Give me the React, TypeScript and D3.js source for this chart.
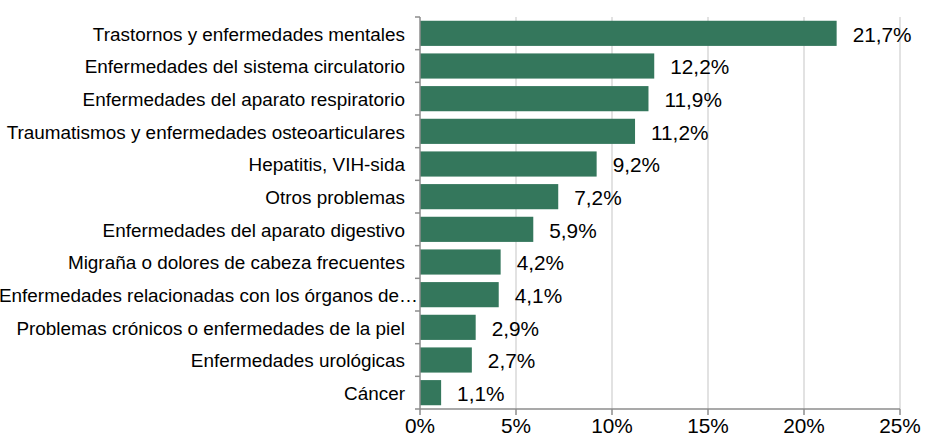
import React from "react";
import * as d3 from "d3";

const categories = [
  "Trastornos y enfermedades mentales",
  "Enfermedades del sistema circulatorio",
  "Enfermedades del aparato respiratorio",
  "Traumatismos y enfermedades osteoarticulares",
  "Hepatitis, VIH-sida",
  "Otros problemas",
  "Enfermedades del aparato digestivo",
  "Migraña o dolores de cabeza frecuentes",
  "Enfermedades relacionadas con los órganos de…",
  "Problemas crónicos o enfermedades de la piel",
  "Enfermedades urológicas",
  "Cáncer",
];
const values = [21.7, 12.2, 11.9, 11.2, 9.2, 7.2, 5.9, 4.2, 4.1, 2.9, 2.7, 1.1];
const valueLabels = ["21,7%", "12,2%", "11,9%", "11,2%", "9,2%", "7,2%", "5,9%", "4,2%", "4,1%", "2,9%", "2,7%", "1,1%"];
const xTicks = [0, 5, 10, 15, 20, 25];
const xTickLabels = ["0%", "5%", "10%", "15%", "20%", "25%"];

const W = 925;
const H = 443;
const left = 420;
const right = 900;
const top = 17;
const bottom = 409;

export default function App() {
  const x = d3.scaleLinear().domain([0, 25]).range([left, right]);
  const y = d3.scaleBand<string>().domain(categories).range([top, bottom]).paddingInner(0.23).paddingOuter(0.115);
  const step = (bottom - top) / categories.length;
  const font = "Arial, 'Liberation Sans', sans-serif";
  const axisColor = "#8c8c8c";
  return (
    <svg width={W} height={H} style={{ position: "absolute", left: 0, top: 0, background: "#fff" }}>
      {xTicks.slice(1).map((t) => (
        <line key={"g" + t} x1={x(t)} x2={x(t)} y1={top} y2={bottom} stroke="#d9d9d9" strokeWidth={1.5} />
      ))}
      {categories.map((c, i) => (
        <rect key={c} x={x(0)} y={y(c)} width={x(values[i]) - x(0)} height={y.bandwidth()} fill="#34775c" />
      ))}
      <line x1={left} x2={left} y1={top} y2={bottom} stroke={axisColor} strokeWidth={1.5} />
      {d3.range(categories.length + 1).map((i) => (
        <line key={"yt" + i} x1={left - 5} x2={left} y1={top + i * step} y2={top + i * step} stroke={axisColor} strokeWidth={1.5} />
      ))}
      <line x1={left} x2={right} y1={bottom} y2={bottom} stroke={axisColor} strokeWidth={1.5} />
      {xTicks.map((t) => (
        <line key={"xt" + t} x1={x(t)} x2={x(t)} y1={bottom} y2={bottom + 6} stroke={axisColor} strokeWidth={1.5} />
      ))}
      {xTicks.map((t, i) => (
        <text key={"xl" + t} x={x(t)} y={432.5} textAnchor="middle" fontFamily={font} fontSize={20.8} fill="#000">
          {xTickLabels[i]}
        </text>
      ))}
      {categories.map((c, i) => (
        <text
          key={"cl" + c}
          x={c.endsWith("…") ? 418 : 405}
          y={(y(c) as number) + y.bandwidth() / 2 + 0.7}
          dy="0.35em"
          textAnchor="end"
          fontFamily={font}
          fontSize={18.9}
          fill="#000"
        >
          {c}
        </text>
      ))}
      {categories.map((c, i) => (
        <text
          key={"vl" + c}
          x={x(values[i]) + 16}
          y={(y(c) as number) + y.bandwidth() / 2 + 0.7}
          dy="0.36em"
          textAnchor="start"
          fontFamily={font}
          fontSize={20.8}
          fill="#000"
        >
          {valueLabels[i]}
        </text>
      ))}
    </svg>
  );
}
